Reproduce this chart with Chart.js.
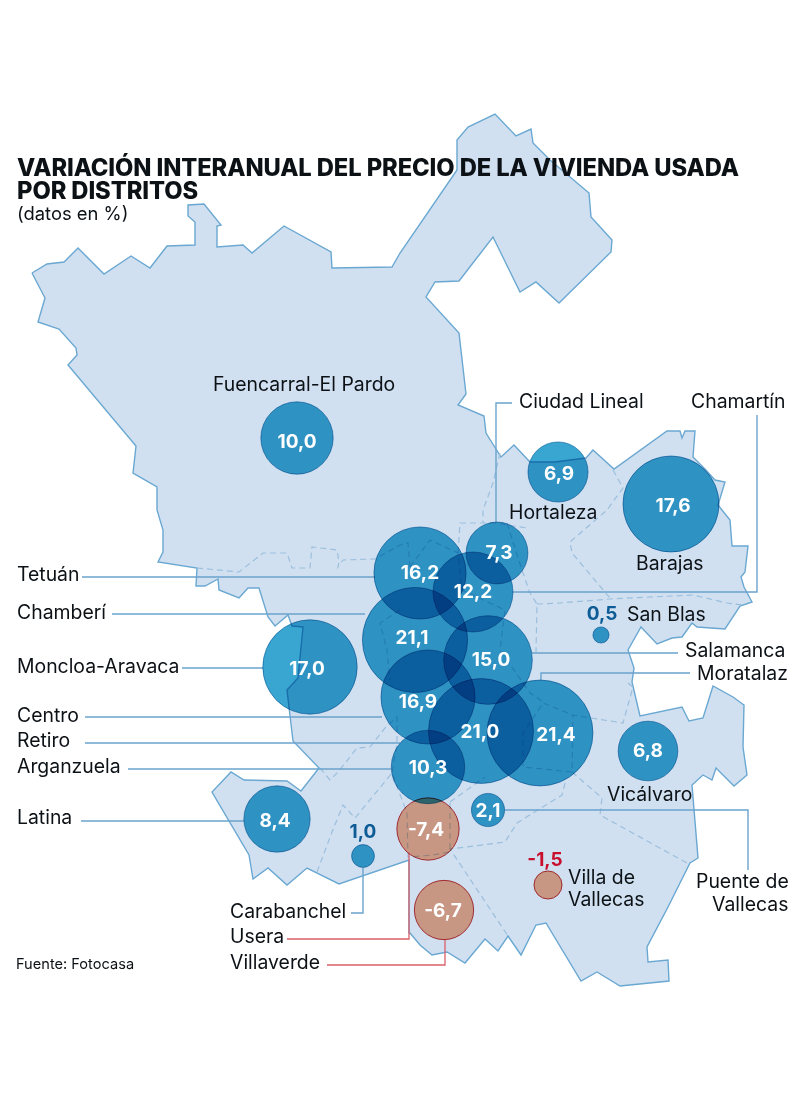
<!DOCTYPE html>
<html lang="es">
<head>
<meta charset="utf-8">
<title>Variación interanual del precio de la vivienda usada por distritos</title>
<script src="https://cdn.jsdelivr.net/npm/chart.js@4"></script>
<style>
  html, body { margin: 0; padding: 0; background: #fff; }
  #wrap { position: relative; width: 800px; height: 1113px; overflow: hidden; font-family: Inter, sans-serif; color: #0c1116; }
  canvas { position: absolute; left: 0; top: 0; }
  h1 { position: absolute; left: 17px; top: 156px; margin: 0; width: 780px; font-size: 23.75px; line-height: 23px; font-weight: 800; letter-spacing: -0.1px; }
  #sub { position: absolute; left: 17px; top: 202px; font-size: 18.4px; line-height: 22px; }
  #src { position: absolute; left: 16px; top: 955px; font-size: 14.6px; line-height: 18px; }
</style>
</head>
<body>
<div id="wrap">
  <canvas id="mapChart" width="800" height="1113"></canvas>
  <h1>VARIACIÓN INTERANUAL DEL PRECIO DE LA VIVIENDA USADA<br>POR DISTRITOS</h1>
  <div id="sub">(datos en %)</div>
  <div id="src">Fuente: Fotocasa</div>
</div>
<script>
// valores por distrito
var valueLabels = ['10,0', '17,6', '6,9', '7,3', '16,2', '12,2', '21,1', '15,0', '17,0', '16,9', '21,0', '21,4', '10,3', '8,4', '2,1', '1,0', '0,5', '-7,4', '-6,7', '-1,5', '6,8'];
var values = [10.0, 17.6, 6.9, 7.3, 16.2, 12.2, 21.1, 15.0, 17.0, 16.9, 21.0, 21.4, 10.3, 8.4, 2.1, 1.0, 0.5, -7.4, -6.7, -1.5, 6.8];
// situacion de cada burbuja sobre el mapa
var bubbleX = [297, 671, 558, 497, 420, 473, 415, 488, 310, 428, 481, 540, 428, 277, 488, 363, 601, 428, 444, 548, 648];
var bubbleY = [438, 504, 472, 553, 573, 592, 640, 660, 667, 697, 731, 733, 767, 819, 810, 856, 635, 829, 910, 885, 751];
var valueX = [297, 673, 559, 499, 420, 473, 412, 491, 307, 418, 480, 556, 428, 275, 488, 363, 602, 426, 443, 545, 648];
var valueY = [442, 506, 474, 553, 573, 592, 638, 660, 669, 702, 732, 735, 768, 821, 811, 832, 614, 830, 911, 860, 751];

var districtNames = ['Fuencarral-El Pardo', 'Ciudad Lineal', 'Chamartín', 'Hortaleza', 'Barajas', 'Tetuán', 'Chamberí', 'San Blas', 'Salamanca', 'Moratalaz', 'Moncloa-Aravaca', 'Centro', 'Retiro', 'Arganzuela', 'Latina', 'Vicálvaro', 'Villa de', 'Vallecas', 'Puente de', 'Vallecas', 'Carabanchel', 'Usera', 'Villaverde'];
var nameX = [213, 519, 691, 509, 636, 17, 17, 627, 685, 697, 17, 17, 17, 17, 17, 607, 568, 568, 696, 712, 230, 230, 230];
var nameY = [385, 402, 402, 513, 564, 575, 613, 615, 651, 674, 667, 716, 741, 767, 818, 795, 878, 900, 882, 905, 912, 937, 963];

// contorno del municipio
var mapOutline = [[32,273],[47,264],[64,262],[78,248],[104,274],[131,256],[150,268],[167,246],[195,245],[195,222],[188,216],[188,205],[204,204],[221,225],[217,226],[217,247],[243,245],[252,253],[284,226],[331,252],[332,268],[392,267],[400,253],[457,170],[457,140],[468,127],[495,114],[516,136],[531,129],[533,143],[550,160],[589,193],[591,217],[612,240],[611,252],[559,303],[536,282],[520,292],[493,237],[459,281],[435,282],[426,297],[459,333],[466,394],[458,405],[484,416],[486,433],[501,457],[514,445],[530,462],[555,462],[586,458],[593,450],[614,469],[667,431],[680,431],[682,438],[685,431],[695,431],[693,457],[704,468],[715,480],[725,482],[718,505],[730,520],[732,546],[748,546],[745,572],[741,577],[744,587],[752,602],[740,606],[725,629],[697,627],[692,623],[682,637],[672,638],[657,644],[641,627],[628,650],[634,668],[632,682],[640,716],[682,707],[689,721],[703,718],[713,686],[733,697],[744,705],[743,747],[747,775],[734,786],[716,768],[712,780],[703,775],[692,785],[698,858],[690,863],[668,907],[647,947],[648,962],[668,960],[669,981],[620,986],[597,972],[581,981],[546,923],[536,925],[521,955],[508,936],[498,951],[485,939],[465,963],[447,952],[432,955],[420,945],[410,933],[409,860],[339,884],[307,868],[287,885],[268,868],[253,879],[249,855],[212,792],[231,772],[244,780],[287,781],[301,791],[319,768],[293,741],[287,690],[298,678],[303,627],[292,626],[288,615],[275,626],[268,617],[259,588],[248,588],[239,598],[219,590],[218,579],[205,586],[196,586],[197,568],[158,562],[163,552],[163,530],[157,510],[157,487],[133,473],[136,446],[68,365],[77,355],[76,348],[59,329],[38,322],[45,298],[32,273]];

// limites entre distritos (a trazos)
var districtBorders = [
  [[197,568],[239,572],[263,553],[287,553],[292,568],[310,568],[312,547],[337,550],[339,562],[338,567],[343,560],[375,559],[400,545],[408,543],[410,567]],
  [[500,453],[493,483],[483,510],[483,523]],
  [[458,553],[460,523],[495,523],[527,528]],
  [[507,523],[523,573],[530,593],[537,604],[536,652]],
  [[537,604],[560,603],[610,599],[693,595],[727,603],[742,605]],
  [[613,470],[623,488],[607,510],[570,542],[572,553],[610,598]],
  [[628,683],[633,687],[623,723],[585,717],[573,715],[543,703],[523,733],[523,767],[572,772],[573,715]],
  [[572,772],[602,798],[600,815],[687,863]],
  [[565,783],[562,795],[533,813],[517,823],[505,842],[450,849],[508,936]],
  [[450,802],[485,777]],
  [[317,872],[332,832],[343,805],[355,818],[392,773],[407,813],[408,857],[433,855],[450,852],[450,802]],
  [[320,768],[330,780],[338,772],[357,748],[370,747],[385,728],[397,717],[397,743],[392,773]],
  [[400,610],[380,623],[387,650],[390,680]],
  [[410,567],[430,540],[458,553],[462,590],[505,610],[500,650],[530,693],[545,703]]
];

// lineas de guia de las etiquetas
var blueLeaders = [
  [[512,403],[496,403],[496,522]],
  [[757,415],[757,592],[513,592]],
  [[82,577],[375,577]],
  [[112,614],[365,614]],
  [[182,668],[263,668]],
  [[85,717],[382,717]],
  [[85,743],[400,743]],
  [[128,769],[391,769]],
  [[81,821],[244,821]],
  [[532,653],[678,653]],
  [[690,673],[541,673],[541,680]],
  [[505,810],[748,810],[748,870]],
  [[363,868],[363,913],[351,913]]
];
var redLeaders = [
  [[409,853],[409,939],[287,939]],
  [[445,940],[445,965],[327,965]]
];

function toPoints(list) {
  return list.map(function(p) { return { x: p[0], y: p[1] }; });
}

function lineDataset(list, color, width, dash, order) {
  return {
    type: 'scatter',
    data: toPoints(list),
    showLine: true,
    borderColor: color,
    borderWidth: width,
    borderDash: dash,
    pointRadius: 0,
    tension: 0,
    fill: false,
    order: order
  };
}

// el area de la burbuja es proporcional al valor
var bubbleData = values.map(function(v, i) {
  return { x: bubbleX[i], y: bubbleY[i], r: Math.sqrt(Math.abs(v)) * 11.45 };
});

var datasets = [{
  type: 'bubble',
  data: bubbleData,
  backgroundColor: values.map(function(v) { return v < 0 ? 'rgb(246,172,140)' : 'rgb(56,166,208)'; }),
  borderColor: values.map(function(v) { return v < 0 ? 'rgb(200,60,70)' : 'rgb(110,170,205)'; }),
  borderWidth: 1,
  order: 1
}];
blueLeaders.forEach(function(l) { datasets.push(lineDataset(l, '#6ba3cd', 1.4, [], 2)); });
redLeaders.forEach(function(l) { datasets.push(lineDataset(l, '#d9606a', 1.3, [], 2)); });
districtBorders.forEach(function(l) { datasets.push(lineDataset(l, '#9cbfdd', 1.2, [6, 4], 3)); });
datasets.push({
  type: 'scatter',
  data: toPoints(mapOutline),
  showLine: true,
  fill: 'shape',
  backgroundColor: '#d0e0f0',
  borderColor: '#6aa8d2',
  borderWidth: 1.4,
  pointRadius: 0,
  tension: 0,
  order: 4
});

// las burbujas se oscurecen al solaparse
var multiplyBubbles = {
  id: 'multiplyBubbles',
  beforeDatasetDraw: function(chart, args) {
    if (args.meta.type === 'bubble') {
      chart.ctx.save();
      chart.ctx.globalCompositeOperation = 'multiply';
    }
  },
  afterDatasetDraw: function(chart, args) {
    if (args.meta.type === 'bubble') {
      chart.ctx.restore();
    }
  }
};

var mapLabels = {
  id: 'mapLabels',
  afterDatasetsDraw: function(chart) {
    var ctx = chart.ctx;
    var sx = chart.scales.x;
    var sy = chart.scales.y;
    ctx.save();
    ctx.textBaseline = 'middle';
    ctx.textAlign = 'left';
    ctx.fillStyle = '#0c1116';
    ctx.font = '19.4px Inter, sans-serif';
    districtNames.forEach(function(name, i) {
      ctx.fillText(name, sx.getPixelForValue(nameX[i]), sy.getPixelForValue(nameY[i]));
    });
    ctx.textAlign = 'center';
    ctx.font = '700 19px Inter, sans-serif';
    valueLabels.forEach(function(label, i) {
      var small = Math.abs(values[i]) < 2;
      ctx.fillStyle = !small ? '#ffffff' : (values[i] < 0 ? '#c8102e' : '#0e5c96');
      ctx.fillText(label, sx.getPixelForValue(valueX[i]), sy.getPixelForValue(valueY[i]));
    });
    ctx.restore();
  }
};

var ctx = document.getElementById('mapChart').getContext('2d');
var myChart = new Chart(ctx, {
  data: { datasets: datasets },
  plugins: [multiplyBubbles, mapLabels],
  options: {
    responsive: false,
    animation: false,
    events: [],
    layout: { padding: 0, autoPadding: false },
    scales: {
      x: { type: 'linear', min: 0, max: 800, display: false },
      y: { type: 'linear', min: 0, max: 1113, reverse: true, display: false }
    },
    plugins: {
      legend: { display: false },
      title: { display: false },
      tooltip: { enabled: false }
    }
  }
});
</script>
</body>
</html>
